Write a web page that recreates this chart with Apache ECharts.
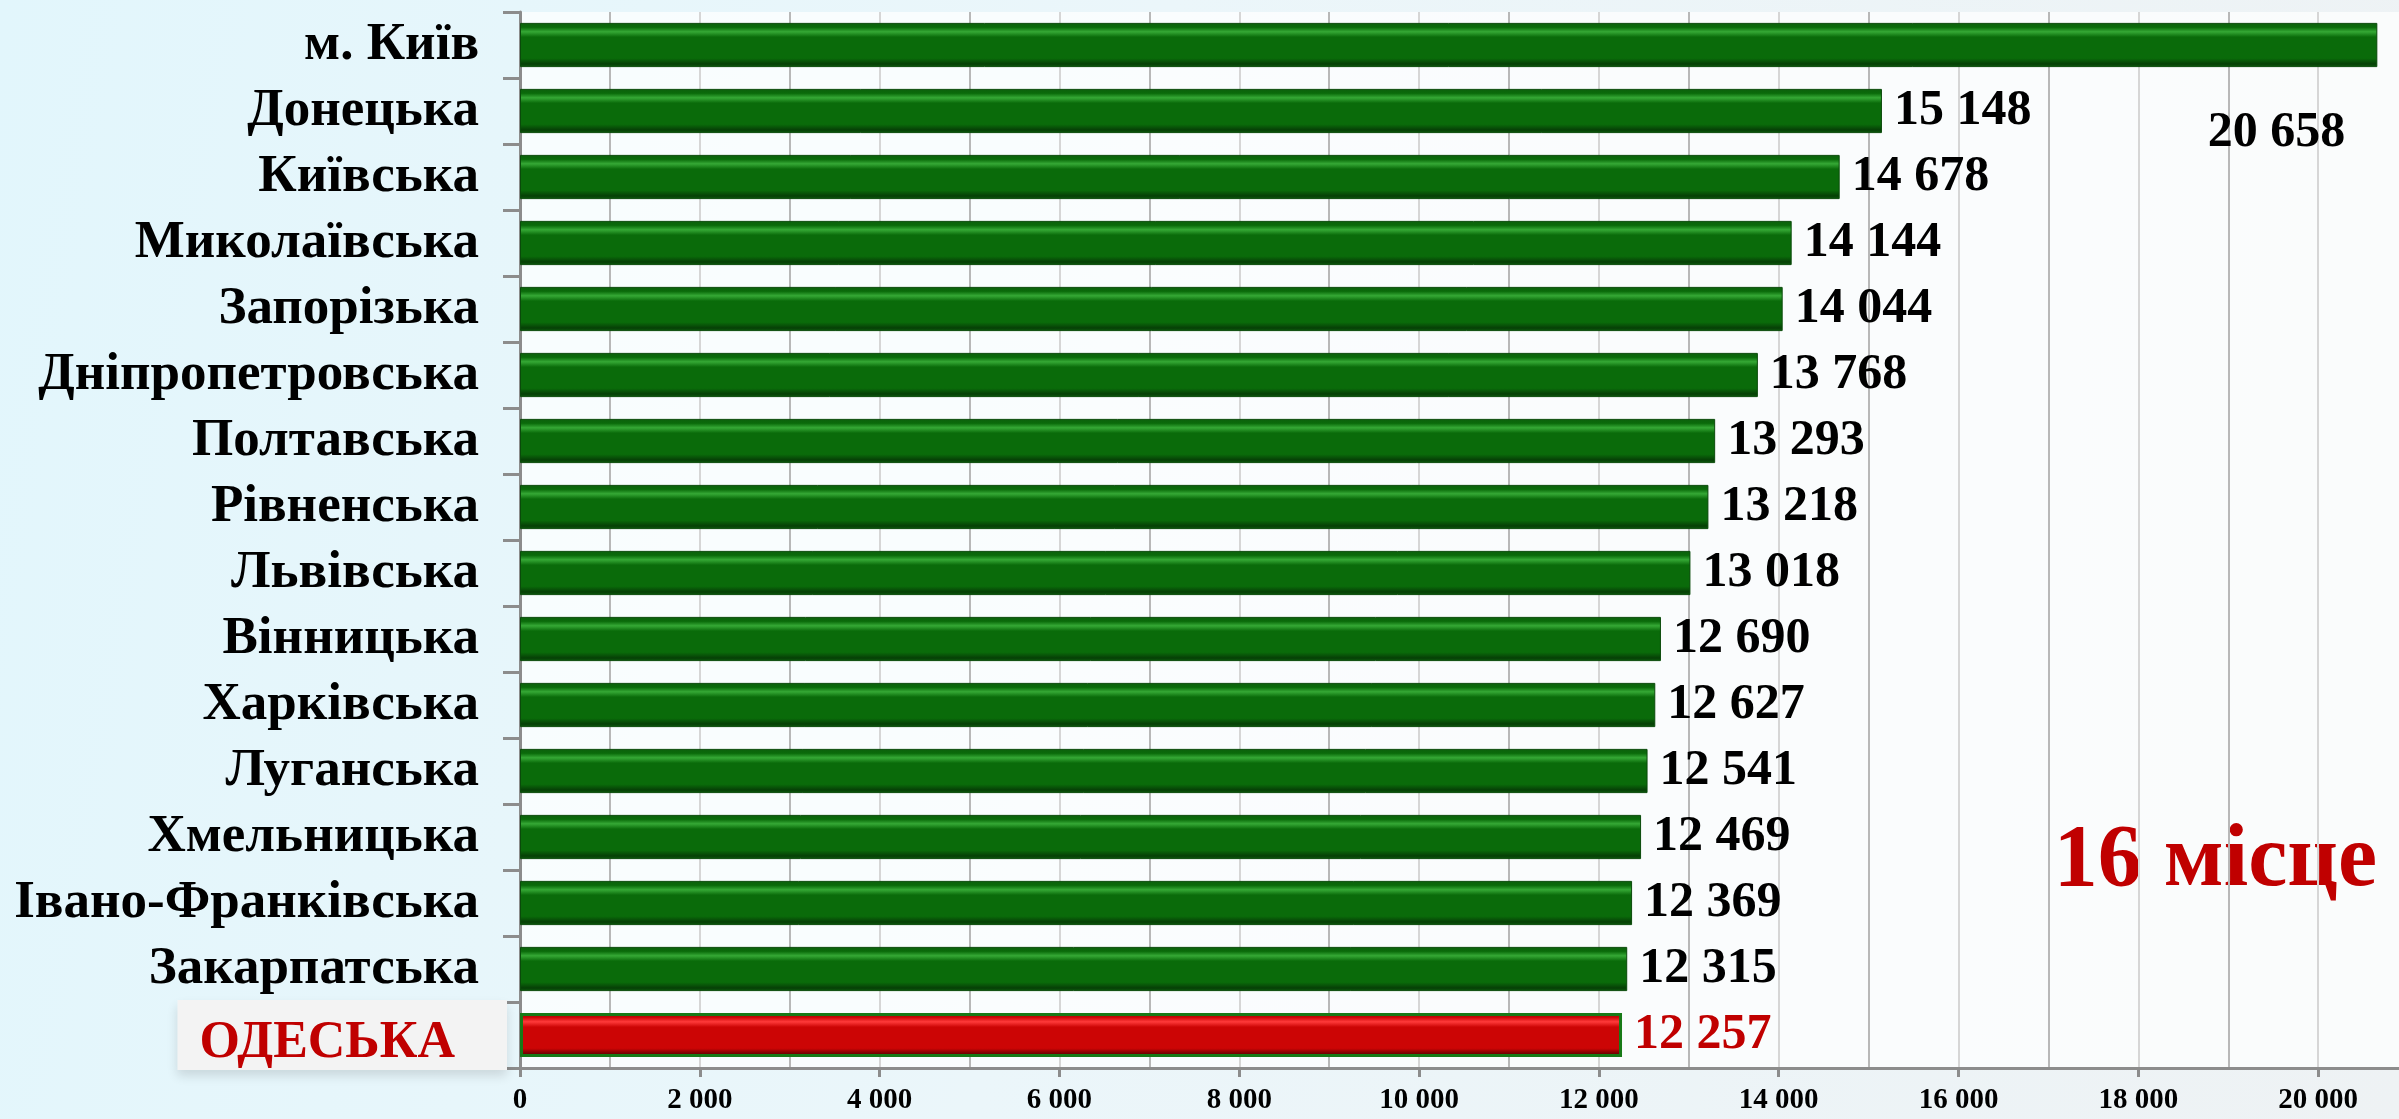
<!DOCTYPE html>
<html>
<head>
<meta charset="utf-8">
<script src="https://cdn.jsdelivr.net/npm/echarts@6/dist/echarts.min.js"></script>
<style>
  html, body {
    margin: 0;
    padding: 0;
    width: 2399px;
    height: 1119px;
    background: linear-gradient(100deg, #e2f6fc 0%, #ebf6fa 45%, #eef2f4 100%);
  }
  #chart {
    width: 2399px;
    height: 1119px;
  }
</style>
</head>
<body>
<div id="chart"></div>
<script>
const regions = ['м. Київ', 'Донецька', 'Київська', 'Миколаївська', 'Запорізька', 'Дніпропетровська',
  'Полтавська', 'Рівненська', 'Львівська', 'Вінницька', 'Харківська', 'Луганська', 'Хмельницька',
  'Івано-Франківська', 'Закарпатська', 'ОДЕСЬКА']
const values = [20658, 15148, 14678, 14144, 14044, 13768, 13293, 13218, 13018, 12690, 12627,
  12541, 12469, 12369, 12315, 12257]
const highlight = 'ОДЕСЬКА'
const rankText = '16 місце'

const serif = '"Liberation Serif", "DejaVu Serif", serif'
const fmt = v => String(v).replace(/\B(?=(\d{3})+(?!\d))/g, ' ')

// об'ємна заливка смуги
function bevel(top, light, mid, dark) {
  return new echarts.graphic.LinearGradient(0, 0, 0, 1, [
    { offset: 0, color: top },
    { offset: 0.1, color: mid },
    { offset: 0.2, color: light },
    { offset: 0.32, color: mid },
    { offset: 0.8, color: mid },
    { offset: 0.93, color: dark },
    { offset: 1, color: top },
  ])
}
const green = bevel('#0d5f0d', '#35a835', '#0a6b0a', '#063f06')
const red = bevel('#8a0000', '#ff3a3a', '#cc0505', '#6e0000')

const barData = values.map((v, i) => {
  const item = { value: v }
  if (regions[i] === highlight) {
    item.itemStyle = { color: red, borderColor: '#177a17', borderWidth: 3 }
    item.label = { color: '#c00000' }
  }
  if (i === 0) {
    // найбільше значення підписано під смугою
    item.label = { position: 'insideRight', offset: [-20, 88] }
  }
  return item
})

const chart = echarts.init(document.getElementById('chart'))
chart.setOption({
  backgroundColor: 'transparent',
  animation: false,
  grid: {
    left: 520,
    top: 12,
    bottom: 51,
    width: 1978,
    outerBoundsMode: 'none',
    show: true,
    borderWidth: 0,
    backgroundColor: 'rgba(255,255,255,0.72)',
  },
  xAxis: {
    type: 'value',
    min: 0,
    max: 22000,
    interval: 2000,
    axisLine: { show: true, lineStyle: { color: '#8c8c8c', width: 3 } },
    axisTick: { show: true, length: 9, lineStyle: { color: '#8c8c8c', width: 3 } },
    axisLabel: {
      margin: 18,
      color: '#000',
      fontFamily: serif,
      fontWeight: 'bold',
      fontSize: 29,
      formatter: v => fmt(v),
    },
    splitLine: { show: true, lineStyle: { color: '#d6d6d6', width: 2 } },
    minorTick: { show: false, splitNumber: 2 },
    minorSplitLine: { show: true, lineStyle: { color: '#b8b8b8', width: 2 } },
  },
  yAxis: {
    type: 'category',
    inverse: true,
    data: regions,
    axisLine: { show: true, lineStyle: { color: '#8c8c8c', width: 3 } },
    axisTick: { show: true, length: 17, lineStyle: { color: '#8c8c8c', width: 3 } },
    axisLabel: {
      margin: 13,
      formatter: v => (v === highlight ? '{o|' + v + '}' : '{n|' + v + '}'),
      rich: {
        n: {
          color: '#000',
          fontFamily: serif,
          fontWeight: 'bold',
          fontSize: 53,
          padding: [0, 28, 0, 0],
        },
        o: {
          color: '#c00000',
          fontFamily: serif,
          fontWeight: 'bold',
          fontSize: 52,
          lineHeight: 50,
          padding: [18, 52, 0, 22],
          backgroundColor: '#f3f3f3',
          shadowColor: 'rgba(0,0,0,0.12)',
          shadowBlur: 10,
          shadowOffsetY: 6,
        },
      },
    },
  },
  series: [
    {
      type: 'bar',
      data: barData,
      barCategoryGap: '33%',
      itemStyle: { color: green, borderColor: '#0a4a0a', borderWidth: 1 },
      label: {
        show: true,
        position: 'right',
        distance: 12,
        color: '#000',
        fontFamily: serif,
        fontWeight: 'bold',
        fontSize: 50,
        formatter: p => fmt(p.value),
      },
    },
  ],
  graphic: [
    {
      type: 'text',
      right: 22,
      top: 818,
      style: {
        text: rankText,
        fill: '#c00000',
        font: 'bold 88px ' + serif,
      },
    },
  ],
})
</script>
</body>
</html>
